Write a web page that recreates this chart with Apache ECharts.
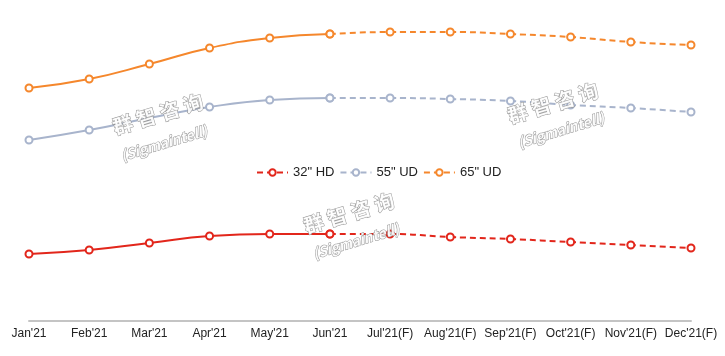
<!DOCTYPE html>
<html>
<head>
<meta charset="utf-8">
<script src="https://cdn.jsdelivr.net/npm/echarts@6/dist/echarts.min.js"></script>
<style>html,body{margin:0;padding:0;background:#fff}#c{width:725px;height:356px}</style>
</head>
<body>
<div id="c"></div>
<script>
var categories = ["Jan'21","Feb'21","Mar'21","Apr'21","May'21","Jun'21","Jul'21(F)","Aug'21(F)","Sep'21(F)","Oct'21(F)","Nov'21(F)","Dec'21(F)"];
var hd32 = [67, 71, 78, 85, 87, 87, 87, 84, 82, 79, 76, 73];
var ud55 = [181, 191, 203, 214, 221, 223, 223, 222, 220, 216, 213, 209];
var ud65 = [233, 242, 257, 273, 283, 287, 289, 289, 287, 284, 279, 276];
var seriesNames = ['32" HD', '55" UD', '65" UD'];
var colors = ['#e2261b', '#a8b4cc', '#f5872c'];
var actualCount = 6; // Jan..Jun actual, Jun..Dec forecast

function splitActual(arr){ return arr.map(function(v,i){ return i < actualCount ? v : '-'; }); }
function splitForecast(arr){ return arr.map(function(v,i){ return i >= actualCount-1 ? v : '-'; }); }

var all = [hd32, ud55, ud65];
var series = [];
all.forEach(function(arr, k){
  series.push({
    name: seriesNames[k], type: 'line', data: splitForecast(arr), smooth: true,
    symbol: 'emptyCircle', symbolSize: 7, color: colors[k],
    lineStyle: {width: 2, type: [6, 4], color: colors[k]},
    itemStyle: {color: colors[k], borderWidth: 2, borderColor: colors[k]},
    z: 3
  });
});
all.forEach(function(arr, k){
  series.push({
    name: seriesNames[k], type: 'line', data: splitActual(arr), smooth: true,
    symbol: 'emptyCircle', symbolSize: 7, color: colors[k],
    lineStyle: {width: 2, type: 'solid', color: colors[k]},
    itemStyle: {color: colors[k], borderWidth: 2, borderColor: colors[k]},
    z: 3
  });
});

function wm(x, y, txt, size, italic){
  return {
    type: 'text', x: x, y: y, rotation: 0.29, z: 10,
    style: {
      text: txt, fill: '#ffffff', stroke: '#8a8a8a', lineWidth: 1,
      font: (italic ? 'italic ' : '') + 'bold ' + size + 'px "Noto Sans CJK SC", sans-serif',
      align: 'center', verticalAlign: 'middle', opacity: 0.9
    }
  };
}

var chart = echarts.init(document.getElementById('c'));
chart.setOption({
  animation: false,
  grid: {left: 29, right: 34, top: 21, bottom: 35},
  legend: {
    top: 161, left: 251, itemWidth: 31, itemHeight: 8, itemGap: 5,
    data: seriesNames,
    textStyle: {fontFamily: 'Liberation Sans, Arial', fontSize: 13, color: '#222'}
  },
  xAxis: {
    type: 'category', data: categories, boundaryGap: false,
    axisLine: {lineStyle: {color: '#c4c4c4', width: 2}},
    axisTick: {show: false},
    axisLabel: {margin: 7, fontFamily: 'Liberation Sans, Arial', fontSize: 12, color: '#222', interval: 0}
  },
  yAxis: {type: 'value', min: 0, max: 300, show: false, splitLine: {show: false}},
  graphic: [
    wm(158, 114, '群 智 咨 询', 20, false),
    wm(164, 143, '(Sigmaintell)', 14, true),
    wm(349, 213, '群 智 咨 询', 20, false),
    wm(356, 241, '(Sigmaintell)', 14, true),
    wm(553, 103, '群 智 咨 询', 20, false),
    wm(561, 130, '(Sigmaintell)', 14, true)
  ],
  series: series
});
</script>
</body>
</html>
